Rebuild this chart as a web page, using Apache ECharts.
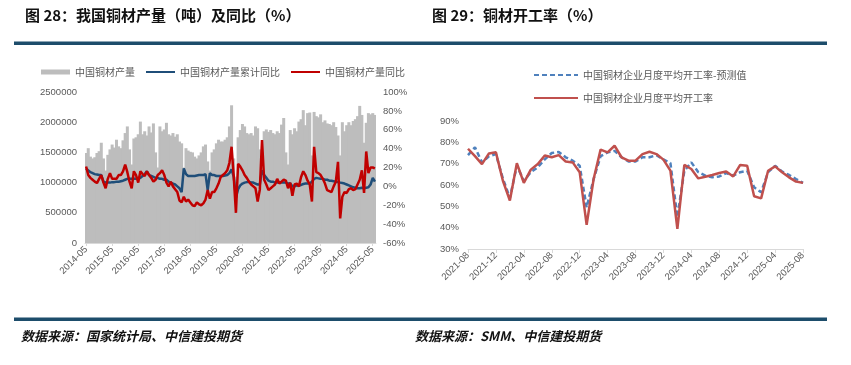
<!DOCTYPE html>
<html><head><meta charset="utf-8">
<script src="https://cdn.jsdelivr.net/npm/echarts@6/dist/echarts.min.js"></script>
<style>html,body{margin:0;padding:0;background:#fff}#c{width:851px;height:365px}</style>
</head><body><div id="c"></div>
<script>
// ---------- Chart 28 data (monthly, 2014-05 .. 2025-06) ----------
const prodMonths = [];
for (let y = 2014; y <= 2025; y++) {
  for (let m = 1; m <= 12; m++) {
    if (y === 2014 && m < 5) continue;
    if (y === 2025 && m > 6) continue;
    prodMonths.push(y + '-' + String(m).padStart(2, '0'));
  }
}
const copperOutput = [
  1490000,1570000,1430000,1400000,1420000,1490000,1520000,1660000,
  1400000,1200000,1460000,1550000,1630000,1580000,1710000,1600000,1570000,1700000,1820000,1930000,
  1550000,1300000,1730000,1750000,1800000,2010000,1800000,1850000,1780000,1930000,1830000,1980000,
  1500000,1250000,1930000,1850000,1880000,1990000,1800000,1780000,1820000,1760000,1800000,1680000,
  1650000,1250000,1570000,1530000,1510000,1500000,1430000,1400000,1450000,1500000,1600000,1630000,
  1350000,1200000,1500000,1550000,1650000,1710000,1680000,1680000,1710000,1750000,1930000,2280000,
  1400000,1100000,1750000,1870000,1970000,1930000,1820000,1800000,1820000,1780000,1930000,1900000,
  1550000,1300000,1850000,1880000,1840000,1870000,1820000,1800000,1850000,1820000,1960000,2070000,
  1500000,1300000,1870000,1800000,1900000,1850000,2010000,2050000,2200000,1950000,2150000,2160000,
  1450000,2170000,2100000,2080000,2130000,2000000,2030000,1980000,1970000,1950000,2000000,1920000,
  1780000,1450000,2000000,1850000,1950000,2000000,1950000,2020000,2050000,2100000,2270000,2120000,
  1660000,1990000,2150000,2130000,2150000,2120000
];
const cumYoY = [
  19,17,15,14,13,12.5,12,12,
  5,4,4,4,4.5,4.5,5,5,5.5,6,7,8,
  8,8,8,8,9,9,11,13,16,12,11,10,
  9,9,8,8,7,7,5,4,3,2,0,-2,
  -6,19,13,11,11,11,11,11.5,12,12,12,13,
  -4,14,12,12,11,11,11,11,11.5,12,14,18,
  10,-12,-3,1,3,4,4.5,5,4,4,3,2,
  2,17,12,9,6,5,5,4,4,4,4,4,
  4,3,3,0,0,1,1,1.5,2.5,3,3,3,
  5,8,9,8.5,8,8,7,7,6,6,5.5,5,
  4.5,4,3.5,3,2,1,0,-1,-1.5,-2,-2,-1.5,
  -2,-1.5,-1,2,9,5
];
const monthYoY = [
  21,12,9,7,5,3.5,8,12,
  4,-2,8,14,8,8,8,12,12,16,23,15,
  5,-2,16,12,4,16,13,11,16,12,9,5,
  7,12,14,17,12,4,0,5,0,-3,-6,-15,
  -17,-11,-16,-14,-17,-20,-21,-17,-19,-20,-18,-14,
  -4,-13,-6,-6,-2,3,10,12,14,17,25,42,
  10,-28,24,21,17,12,9,5,2,0,-2,-16,
  -3.5,49,7,2,-4,-2,0,2,8,3,5,7,
  6,-2,4,-10,2,3,0,10,16,12,6,2,
  -16,42,15,14,12,8,3,-4,-5,-6,0,5,
  26,-34,-11,-6,-7,-3,-2,-4,-3,2,7,17,
  -7,37,14,20,20,19
];

// ---------- Chart 29 data (monthly, 2021-08 .. 2025-08) ----------
const rateMonths = [];
for (let y = 2021; y <= 2025; y++) {
  for (let m = 1; m <= 12; m++) {
    if (y === 2021 && m < 8) continue;
    if (y === 2025 && m > 8) continue;
    rateMonths.push(y + '-' + String(m).padStart(2, '0'));
  }
}
const rateForecast = [
  74,77.7,70.6,73.5,74.5,63,54,69,62,66,68.3,72,75,75.5,73,71.4,69,49.5,62.8,73.5,75.3,76,73,71,
  71,73,73,74,72,70.3,45,66.7,70.6,66,64.4,63.6,64,65.6,64.4,66,66.7,58.9,56.6,66,69,66.3,64.7,62.8,61
];
const rateActual = [
  77,73.5,69.8,74.8,75.3,62,52.7,70.2,61,67.2,69.8,73.8,73,74,71,70.6,66,41.3,62.8,76.6,75.3,78.4,73,71.4,
  71.4,74.5,75.6,74.5,71.9,66.7,39.4,69.4,67.5,63.1,63.9,64.7,65.6,66.3,64,69.4,69,54.7,53.75,66.7,68.75,66,63.6,61.6,61
];

const F = '"Liberation Sans","Noto Sans CJK SC",sans-serif';
const CJK = '"Noto Sans CJK SC",sans-serif';
const lab = {color:'#595959', fontSize:9.5, fontFamily:F};
const navy = '#1d4d6b';
const hideSym = {opacity:0};

const chart = echarts.init(document.getElementById('c'), null, {renderer:'canvas'});
chart.setOption({
  animation:false,
  backgroundColor:'#ffffff',
  graphic:[
    {type:'text', x:25, y:15, style:{text:'图 28：我国铜材产量（吨）及同比（%）', font:'bold 15px '+CJK, fill:'#111', verticalAlign:'middle'}},
    {type:'text', x:432, y:15, style:{text:'图 29：铜材开工率（%）', font:'bold 15px '+CJK, fill:'#111', verticalAlign:'middle'}},
    {type:'rect', shape:{x:14,y:41.5,width:813,height:3.5}, style:{fill:navy}},
    {type:'rect', shape:{x:14,y:317.5,width:813,height:3.5}, style:{fill:navy}},
    {type:'text', x:21, y:336.5, style:{text:'数据来源：国家统计局、中信建投期货', font:'italic bold 13px '+CJK, fill:'#111', verticalAlign:'middle'}},
    {type:'text', x:415, y:336.5, style:{text:'数据来源：SMM、中信建投期货', font:'italic bold 13px '+CJK, fill:'#111', verticalAlign:'middle'}}
  ],
  legend:[
    {left:36, top:61, itemWidth:29, itemHeight:5, itemGap:10,
     textStyle:{color:'#595959', fontSize:10, fontFamily:CJK, lineHeight:12},
     data:[{name:'中国铜材产量', icon:'rect'},
           {name:'中国铜材产量累计同比', itemStyle:hideSym},
           {name:'中国铜材产量同比', itemStyle:hideSym}]},
    {left:528, top:64, orient:'vertical', itemWidth:44, itemHeight:12, itemGap:11,
     textStyle:{color:'#595959', fontSize:10, fontFamily:CJK, lineHeight:12},
     data:[{name:'中国铜材企业月度平均开工率-预测值', itemStyle:hideSym},
           {name:'中国铜材企业月度平均开工率', itemStyle:hideSym}]}
  ],
  grid:[
    {left:85, top:92, width:291, height:151},
    {left:468, top:121, width:335, height:128}
  ],
  xAxis:[
    {type:'category', gridIndex:0, data:prodMonths, boundaryGap:true,
     axisLine:{show:true, lineStyle:{color:'#d9d9d9'}},
     axisTick:{show:true, interval:11, alignWithLabel:true, length:3, lineStyle:{color:'#d9d9d9'}},
     axisLabel:Object.assign({interval:11, rotate:45, margin:5}, lab)},
    {type:'category', gridIndex:1, data:rateMonths, boundaryGap:false,
     axisLine:{show:true, lineStyle:{color:'#d9d9d9'}},
     axisTick:{show:true, interval:3, length:4, lineStyle:{color:'#d9d9d9'}},
     axisLabel:Object.assign({interval:3, rotate:45, margin:5}, lab)}
  ],
  yAxis:[
    {type:'value', gridIndex:0, min:0, max:2500000, interval:500000,
     splitLine:{show:false}, axisLine:{show:false}, axisTick:{show:false},
     axisLabel:Object.assign({margin:8, formatter:function(v){return String(v);}}, lab)},
    {type:'value', gridIndex:0, position:'right', min:-60, max:100, interval:20,
     splitLine:{show:false}, axisLine:{show:false}, axisTick:{show:false},
     axisLabel:Object.assign({margin:7, formatter:'{value}%'}, lab)},
    {type:'value', gridIndex:1, min:30, max:90, interval:10,
     splitLine:{show:false}, axisLine:{show:false}, axisTick:{show:false},
     axisLabel:Object.assign({margin:9, formatter:'{value}%'}, lab)}
  ],
  series:[
    {name:'中国铜材产量', type:'bar', xAxisIndex:0, yAxisIndex:0, data:copperOutput,
     barWidth:3, itemStyle:{color:'#bdbdbd'}},
    {name:'中国铜材产量累计同比', type:'line', xAxisIndex:0, yAxisIndex:1, data:cumYoY,
     symbol:'none', lineStyle:{color:'#1f4e79', width:2.5}, itemStyle:{color:'#1f4e79'}},
    {name:'中国铜材产量同比', type:'line', xAxisIndex:0, yAxisIndex:1, data:monthYoY,
     symbol:'none', lineStyle:{color:'#c00000', width:2.5}, itemStyle:{color:'#c00000'}},
    {name:'中国铜材企业月度平均开工率-预测值', type:'line', xAxisIndex:1, yAxisIndex:2, data:rateForecast,
     symbol:'none', lineStyle:{color:'#4f81bd', width:2.5, type:[5,3]}, itemStyle:{color:'#4f81bd'}},
    {name:'中国铜材企业月度平均开工率', type:'line', xAxisIndex:1, yAxisIndex:2, data:rateActual,
     symbol:'none', lineStyle:{color:'#c0504d', width:2.5}, itemStyle:{color:'#c0504d'}}
  ]
});
</script></body></html>
